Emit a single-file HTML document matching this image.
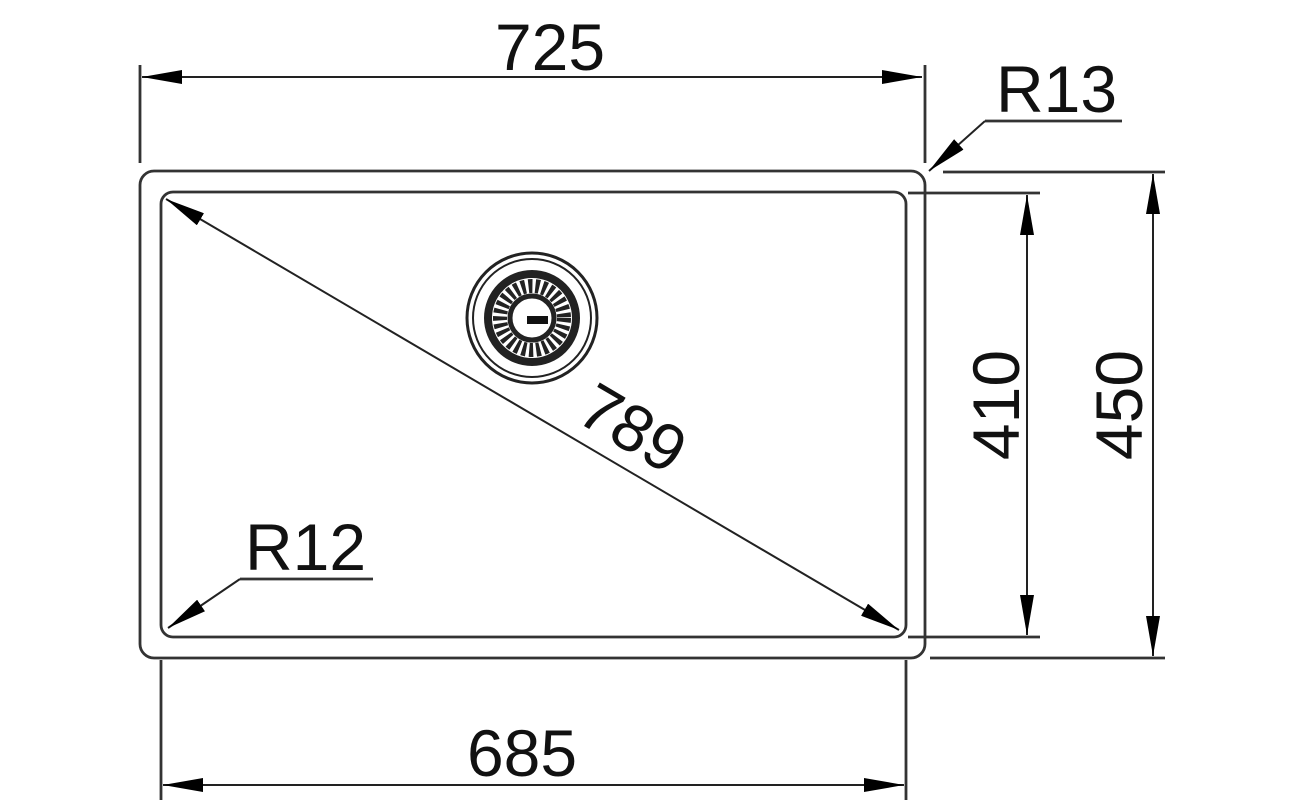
<!DOCTYPE html>
<html><head><style>html,body{margin:0;padding:0;background:#fff}svg{display:block}</style></head>
<body>
<svg width="1307" height="808" viewBox="0 0 1307 808" xmlns="http://www.w3.org/2000/svg" font-family="Liberation Sans, sans-serif">
<defs>
<marker id="a" viewBox="0 0 40 14" refX="40" refY="7" markerWidth="40" markerHeight="14" markerUnits="userSpaceOnUse" orient="auto-start-reverse">
<path d="M0,0 L40,7 L0,14 Z" fill="#000"/>
</marker>
</defs>
<g stroke="#333" stroke-width="2.8" fill="none">
<rect x="140" y="171" width="785" height="487" rx="14"/>
<rect x="161" y="192" width="745" height="445" rx="12"/>
<line x1="140" y1="65" x2="140" y2="163"/>
<line x1="925" y1="65" x2="925" y2="163"/>
<line x1="943" y1="172" x2="1165" y2="172"/>
<line x1="908" y1="193" x2="1040" y2="193"/>
<line x1="908" y1="637" x2="1040" y2="637"/>
<line x1="930" y1="658" x2="1165" y2="658"/>
<line x1="161" y1="660" x2="161" y2="800"/>
<line x1="906" y1="660" x2="906" y2="800"/>
<polyline points="985,121 1122,121"/>
<polyline points="240,579 373,579"/>
</g>
<g stroke="#222" stroke-width="2" fill="none">
<line x1="142" y1="77" x2="922" y2="77" marker-start="url(#a)" marker-end="url(#a)"/>
<line x1="1027" y1="195" x2="1027" y2="635" marker-start="url(#a)" marker-end="url(#a)"/>
<line x1="1153" y1="174" x2="1153" y2="656" marker-start="url(#a)" marker-end="url(#a)"/>
<line x1="163" y1="785" x2="904" y2="785" marker-start="url(#a)" marker-end="url(#a)"/>
<line x1="166" y1="199" x2="899" y2="630" marker-start="url(#a)" marker-end="url(#a)"/>
<line x1="985" y1="121" x2="929" y2="171" marker-end="url(#a)"/>
<line x1="240" y1="579" x2="168" y2="628" marker-end="url(#a)"/>
</g>
<g fill="none" stroke="#222">
<circle cx="532" cy="318" r="65" stroke-width="3"/>
<circle cx="532" cy="318" r="59" stroke-width="2"/>
<circle cx="532" cy="318" r="44" stroke-width="8"/>
<circle cx="532" cy="318" r="32" stroke-width="14" stroke-dasharray="4 3"/>
<circle cx="532" cy="318" r="22" stroke-width="5"/>
</g>
<rect x="527" y="316" width="21" height="8" fill="#111"/>
<g font-size="66" fill="#111">
<text x="550" y="70" text-anchor="middle">725</text>
<text x="996" y="112">R13</text>
<text x="245" y="570">R12</text>
<text x="522" y="776" text-anchor="middle">685</text>
<text transform="translate(1019,405) rotate(-90)" text-anchor="middle">410</text>
<text transform="translate(1142,405) rotate(-90)" text-anchor="middle">450</text>
<text transform="translate(633,428) rotate(30.4)" text-anchor="middle" y="23">789</text>
</g>
</svg>
</body></html>
